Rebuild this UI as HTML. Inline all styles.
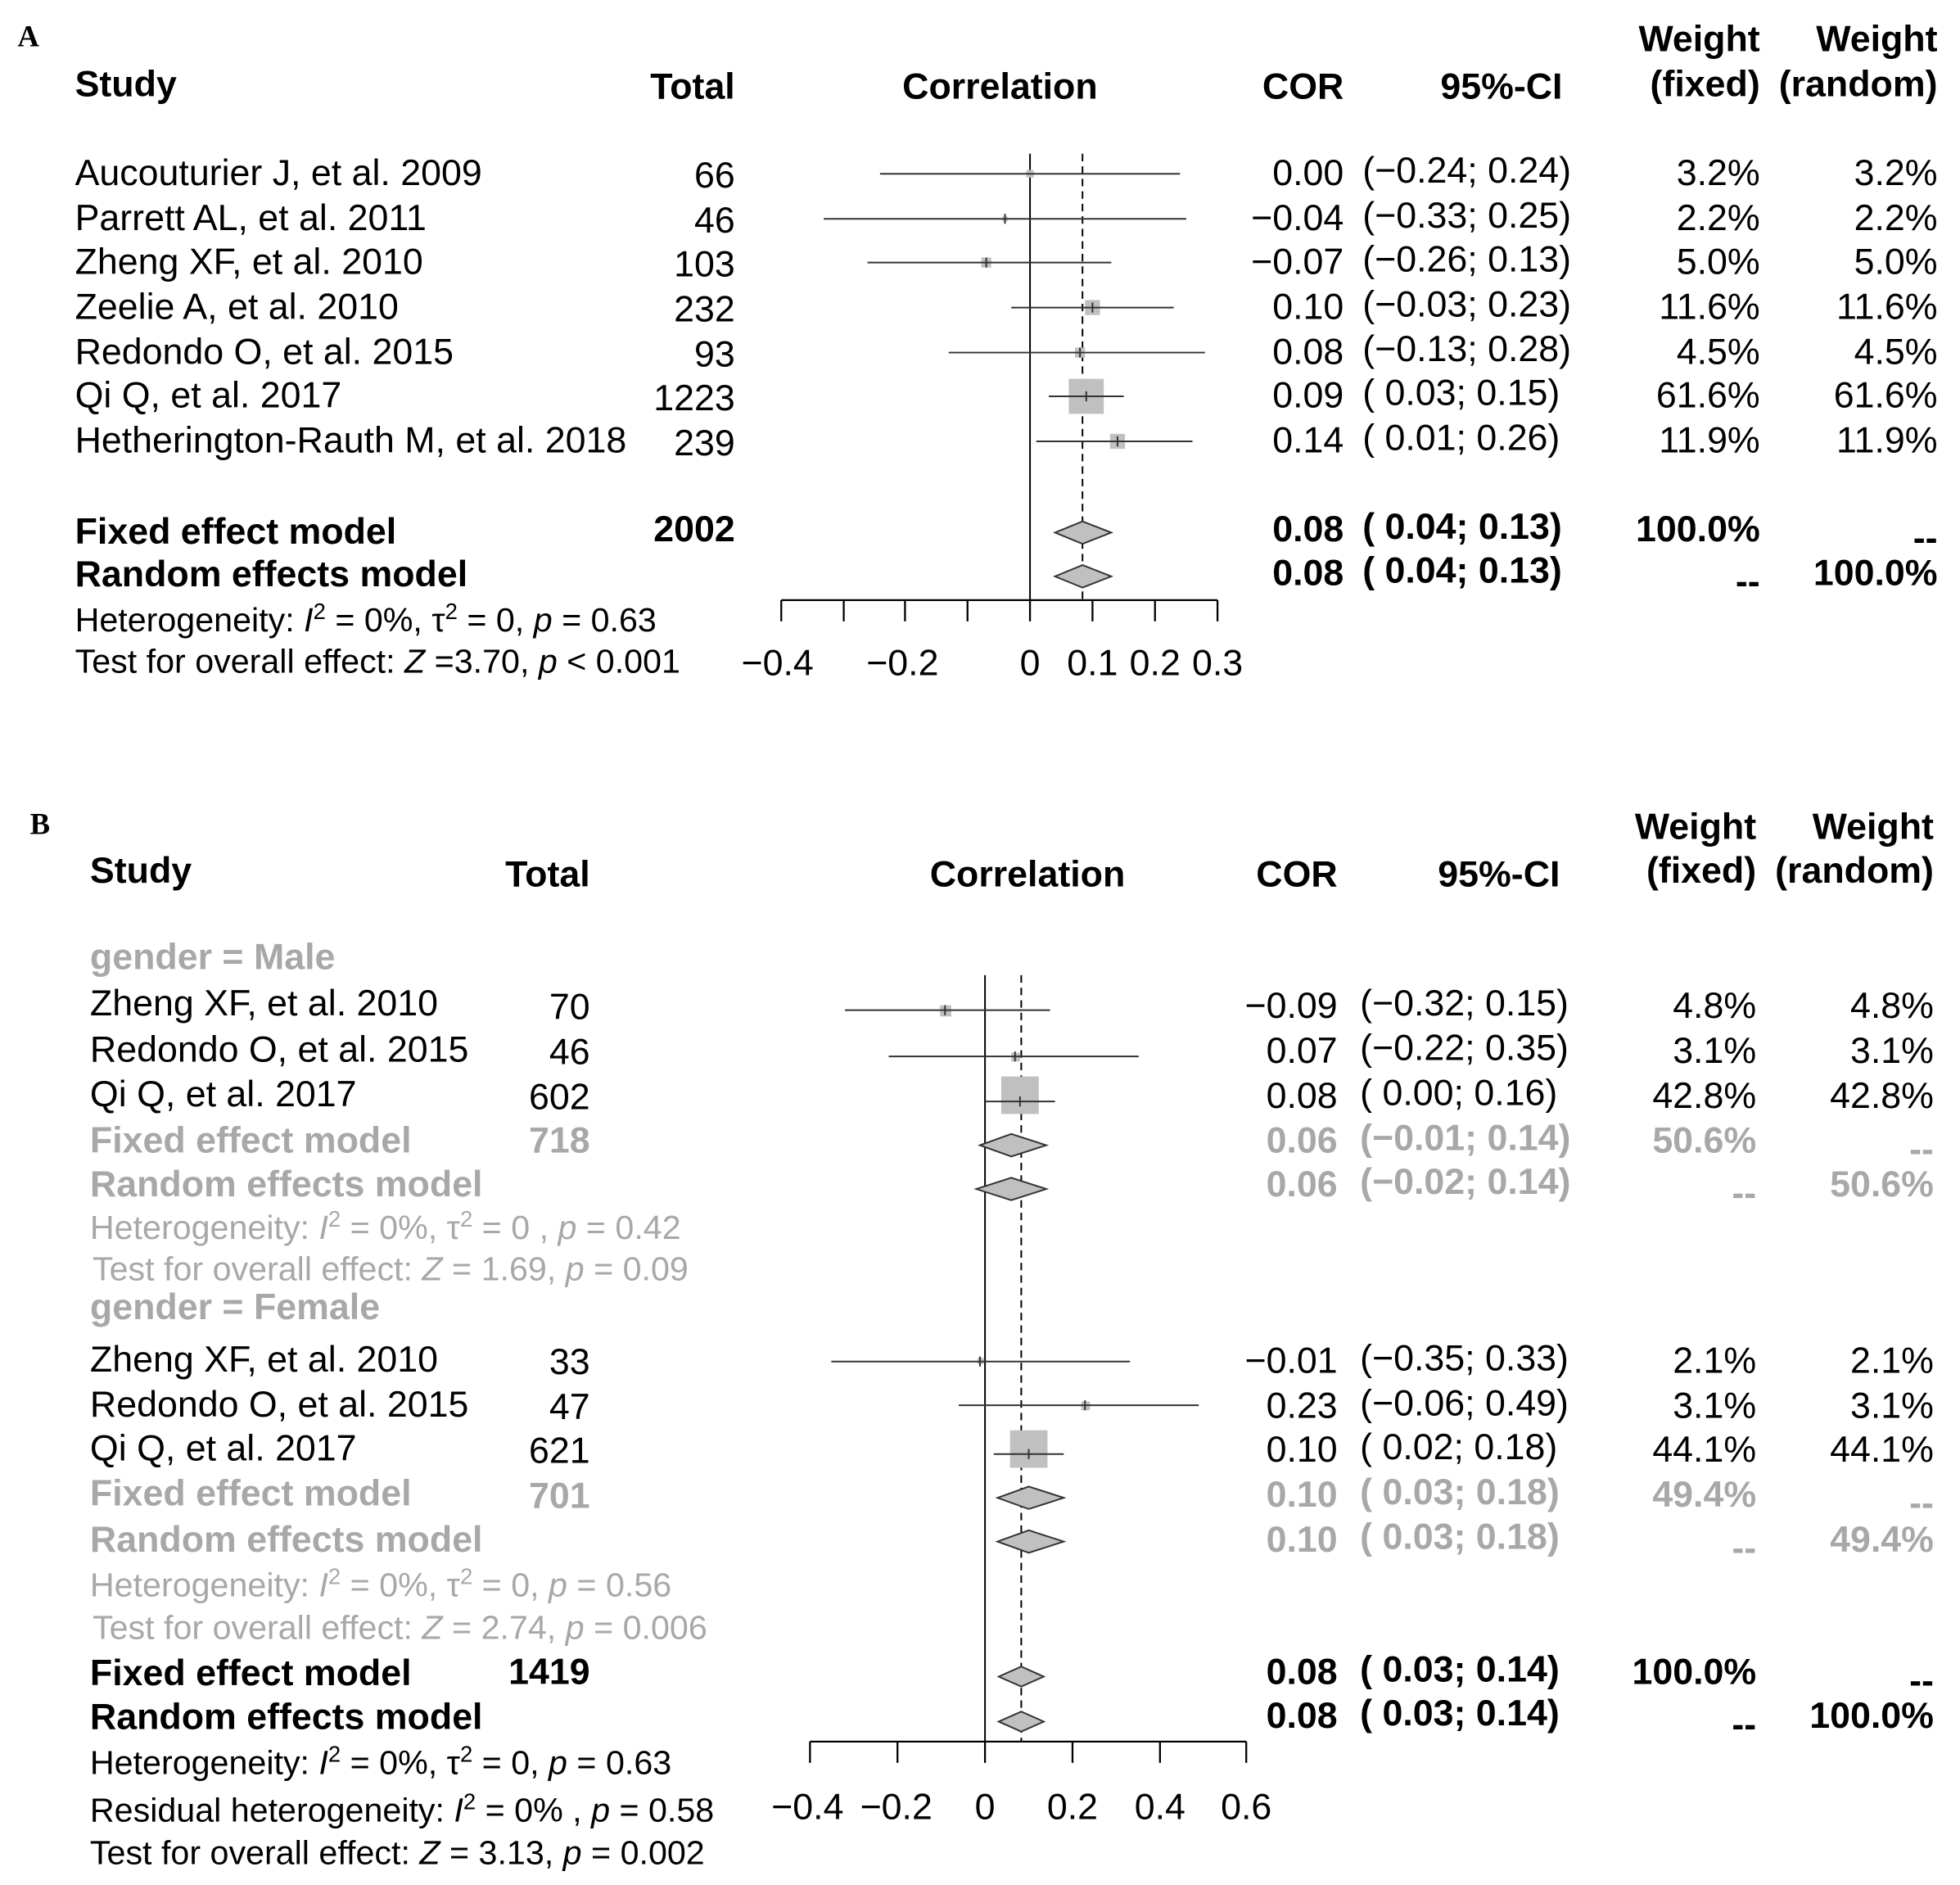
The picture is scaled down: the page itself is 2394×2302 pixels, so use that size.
<!DOCTYPE html>
<html><head><meta charset="utf-8"><style>
html,body{margin:0;padding:0;background:#fff}
svg{display:block}
text{font-family:"Liberation Sans",Arial,sans-serif;font-size:29.3px;fill:#000}
.b{font-weight:bold}
.g{fill:#a8a8a8}
.s{font-size:27px}
.e{text-anchor:end}
.m{text-anchor:middle}
.ser{font-family:"Liberation Serif",serif;font-weight:bold;font-size:24px}
</style></head><body>
<svg width="2394" height="2302" viewBox="0 0 1568 1507.7" preserveAspectRatio="none" xmlns="http://www.w3.org/2000/svg">
<!-- ===== Panel A ===== -->
<text class="ser" x="14" y="37">A</text>
<text class="b" x="60" y="77">Study</text>
<text class="b e" x="588" y="79">Total</text>
<text class="b m" x="800" y="79">Correlation</text>
<text class="b e" x="1075" y="79">COR</text>
<text class="b e" x="1250" y="79">95%-CI</text>
<text class="b e" x="1408" y="41">Weight</text>
<text class="b e" x="1408" y="77">(fixed)</text>
<text class="b e" x="1550" y="41">Weight</text>
<text class="b e" x="1550" y="77">(random)</text>

<g>
<text x="60" y="148">Aucouturier J, et al. 2009</text><text class="e" x="588" y="150">66</text>
<text x="60" y="184">Parrett AL, et al. 2011</text><text class="e" x="588" y="186">46</text>
<text x="60" y="219">Zheng XF, et al. 2010</text><text class="e" x="588" y="221">103</text>
<text x="60" y="255">Zeelie A, et al. 2010</text><text class="e" x="588" y="257">232</text>
<text x="60" y="291">Redondo O, et al. 2015</text><text class="e" x="588" y="293">93</text>
<text x="60" y="326">Qi Q, et al. 2017</text><text class="e" x="588" y="328">1223</text>
<text x="60" y="362">Hetherington-Rauth M, et al. 2018</text><text class="e" x="588" y="364">239</text>
<text class="b" x="60" y="435">Fixed effect model</text><text class="b e" x="588" y="433">2002</text>
<text class="b" x="60" y="469">Random effects model</text>
<text class="s" x="60" y="505">Heterogeneity: <tspan font-style="italic">I</tspan><tspan dy="-10" font-size="18">2</tspan><tspan dy="10"> = 0%, τ</tspan><tspan dy="-10" font-size="18">2</tspan><tspan dy="10"> = 0, </tspan><tspan font-style="italic">p</tspan> = 0.63</text>
<text class="s" x="60" y="538">Test for overall effect: <tspan font-style="italic">Z</tspan> =3.70, <tspan font-style="italic">p</tspan> &lt; 0.001</text>
</g>

<!-- right cols A -->
<g>
<text class="e" x="1075" y="148">0.00</text><text x="1090" y="146">(−0.24; 0.24)</text><text class="e" x="1408" y="148">3.2%</text><text class="e" x="1550" y="148">3.2%</text>
<text class="e" x="1075" y="184">−0.04</text><text x="1090" y="182">(−0.33; 0.25)</text><text class="e" x="1408" y="184">2.2%</text><text class="e" x="1550" y="184">2.2%</text>
<text class="e" x="1075" y="219">−0.07</text><text x="1090" y="217">(−0.26; 0.13)</text><text class="e" x="1408" y="219">5.0%</text><text class="e" x="1550" y="219">5.0%</text>
<text class="e" x="1075" y="255">0.10</text><text x="1090" y="253">(−0.03; 0.23)</text><text class="e" x="1408" y="255">11.6%</text><text class="e" x="1550" y="255">11.6%</text>
<text class="e" x="1075" y="291">0.08</text><text x="1090" y="289">(−0.13; 0.28)</text><text class="e" x="1408" y="291">4.5%</text><text class="e" x="1550" y="291">4.5%</text>
<text class="e" x="1075" y="326">0.09</text><text x="1090" y="324">( 0.03; 0.15)</text><text class="e" x="1408" y="326">61.6%</text><text class="e" x="1550" y="326">61.6%</text>
<text class="e" x="1075" y="362">0.14</text><text x="1090" y="360">( 0.01; 0.26)</text><text class="e" x="1408" y="362">11.9%</text><text class="e" x="1550" y="362">11.9%</text>
<text class="b e" x="1075" y="433">0.08</text><text class="b" x="1090" y="431">( 0.04; 0.13)</text><text class="b e" x="1408" y="433">100.0%</text><text class="b e" x="1550" y="440">--</text>
<text class="b e" x="1075" y="468">0.08</text><text class="b" x="1090" y="466">( 0.04; 0.13)</text><text class="b e" x="1408" y="475">--</text><text class="b e" x="1550" y="468">100.0%</text>
</g>

<!-- plot A -->
<g stroke="#000" fill="none">
<line x1="824" y1="123" x2="824" y2="480" stroke-width="1.3"/>
<line x1="866" y1="123" x2="866" y2="480" stroke-width="1.3" stroke-dasharray="6,4"/>
<line x1="625" y1="480" x2="974" y2="480" stroke-width="1.5"/>
<g stroke-width="1.5">
<line x1="625" y1="480" x2="625" y2="497"/><line x1="675" y1="480" x2="675" y2="497"/><line x1="724" y1="480" x2="724" y2="497"/><line x1="774" y1="480" x2="774" y2="497"/><line x1="824" y1="480" x2="824" y2="497"/><line x1="874" y1="480" x2="874" y2="497"/><line x1="924" y1="480" x2="924" y2="497"/><line x1="974" y1="480" x2="974" y2="497"/>
</g>
</g>
<g fill="#c0c0c0">
<rect x="821" y="136" width="6" height="6"/>
<rect x="802" y="173" width="4" height="4"/>
<rect x="785" y="206" width="8" height="8"/>
<rect x="868" y="240" width="12" height="12"/>
<rect x="860" y="278" width="8" height="8"/>
<rect x="855" y="303" width="28" height="28"/>
<rect x="888" y="347" width="12" height="12"/>
</g>
<g stroke="#333" stroke-width="1.3">
<line x1="704" y1="139" x2="944" y2="139"/>
<line x1="659" y1="175" x2="949" y2="175"/>
<line x1="694" y1="210" x2="889" y2="210"/>
<line x1="809" y1="246" x2="939" y2="246"/>
<line x1="759" y1="282" x2="964" y2="282"/>
<line x1="839" y1="317" x2="899" y2="317"/>
<line x1="829" y1="353" x2="954" y2="353"/>
<line x1="804" y1="171" x2="804" y2="179"/><line x1="789" y1="206" x2="789" y2="214"/><line x1="874" y1="242" x2="874" y2="250"/><line x1="864" y1="278" x2="864" y2="286"/><line x1="869" y1="313" x2="869" y2="321"/><line x1="894" y1="349" x2="894" y2="357"/>
</g>
<g fill="#c0c0c0" stroke="#333" stroke-width="1.3">
<polygon points="844,426 866,417 889,426 866,435"/>
<polygon points="844,461 866,452 889,461 866,470"/>
</g>
<text class="m" x="622" y="540">−0.4</text>
<text class="m" x="722" y="540">−0.2</text>
<text class="m" x="824" y="540">0</text>
<text class="m" x="874" y="540">0.1</text>
<text class="m" x="924" y="540">0.2</text>
<text class="m" x="974" y="540">0.3</text>

<!-- ===== Panel B ===== -->
<text class="ser" x="24" y="667">B</text>
<text class="b" x="72" y="706">Study</text>
<text class="b e" x="472" y="709">Total</text>
<text class="b m" x="822" y="709">Correlation</text>
<text class="b e" x="1070" y="709">COR</text>
<text class="b e" x="1248" y="709">95%-CI</text>
<text class="b e" x="1405" y="671">Weight</text>
<text class="b e" x="1405" y="706">(fixed)</text>
<text class="b e" x="1547" y="671">Weight</text>
<text class="b e" x="1547" y="706">(random)</text>

<g>
<text class="b g" x="72" y="775">gender = Male</text>
<text x="72" y="812">Zheng XF, et al. 2010</text><text class="e" x="472" y="815">70</text>
<text x="72" y="849">Redondo O, et al. 2015</text><text class="e" x="472" y="851">46</text>
<text x="72" y="885">Qi Q, et al. 2017</text><text class="e" x="472" y="887">602</text>
<text class="b g" x="72" y="922">Fixed effect model</text><text class="b g e" x="472" y="922">718</text>
<text class="b g" x="72" y="957">Random effects model</text>
<text class="s g" x="72" y="991">Heterogeneity: <tspan font-style="italic">I</tspan><tspan dy="-10" font-size="18">2</tspan><tspan dy="10"> = 0%, τ</tspan><tspan dy="-10" font-size="18">2</tspan><tspan dy="10"> = 0 , </tspan><tspan font-style="italic">p</tspan> = 0.42</text>
<text class="s g" x="74" y="1024">Test for overall effect: <tspan font-style="italic">Z</tspan> = 1.69, <tspan font-style="italic">p</tspan> = 0.09</text>
<text class="b g" x="72" y="1055">gender = Female</text>
<text x="72" y="1097">Zheng XF, et al. 2010</text><text class="e" x="472" y="1099">33</text>
<text x="72" y="1133">Redondo O, et al. 2015</text><text class="e" x="472" y="1135">47</text>
<text x="72" y="1168">Qi Q, et al. 2017</text><text class="e" x="472" y="1170">621</text>
<text class="b g" x="72" y="1204">Fixed effect model</text><text class="b g e" x="472" y="1206">701</text>
<text class="b g" x="72" y="1241">Random effects model</text>
<text class="s g" x="72" y="1277">Heterogeneity: <tspan font-style="italic">I</tspan><tspan dy="-10" font-size="18">2</tspan><tspan dy="10"> = 0%, τ</tspan><tspan dy="-10" font-size="18">2</tspan><tspan dy="10"> = 0, </tspan><tspan font-style="italic">p</tspan> = 0.56</text>
<text class="s g" x="74" y="1311">Test for overall effect: <tspan font-style="italic">Z</tspan> = 2.74, <tspan font-style="italic">p</tspan> = 0.006</text>
<text class="b" x="72" y="1348">Fixed effect model</text><text class="b e" x="472" y="1347">1419</text>
<text class="b" x="72" y="1383">Random effects model</text>
<text class="s" x="72" y="1419">Heterogeneity: <tspan font-style="italic">I</tspan><tspan dy="-10" font-size="18">2</tspan><tspan dy="10"> = 0%, τ</tspan><tspan dy="-10" font-size="18">2</tspan><tspan dy="10"> = 0, </tspan><tspan font-style="italic">p</tspan> = 0.63</text>
<text class="s" x="72" y="1457">Residual heterogeneity: <tspan font-style="italic">I</tspan><tspan dy="-10" font-size="18">2</tspan><tspan dy="10"> = 0% , </tspan><tspan font-style="italic">p</tspan> = 0.58</text>
<text class="s" x="72" y="1491">Test for overall effect: <tspan font-style="italic">Z</tspan> = 3.13, <tspan font-style="italic">p</tspan> = 0.002</text>
</g>

<!-- right cols B -->
<g>
<text class="e" x="1070" y="814">−0.09</text><text x="1088" y="812">(−0.32; 0.15)</text><text class="e" x="1405" y="814">4.8%</text><text class="e" x="1547" y="814">4.8%</text>
<text class="e" x="1070" y="850">0.07</text><text x="1088" y="848">(−0.22; 0.35)</text><text class="e" x="1405" y="850">3.1%</text><text class="e" x="1547" y="850">3.1%</text>
<text class="e" x="1070" y="886">0.08</text><text x="1088" y="884">( 0.00; 0.16)</text><text class="e" x="1405" y="886">42.8%</text><text class="e" x="1547" y="886">42.8%</text>
<text class="b g e" x="1070" y="922">0.06</text><text class="g" x="1088" y="920" style="font-weight:bold">(−0.01; 0.14)</text><text class="b g e" x="1405" y="922">50.6%</text><text class="b g e" x="1547" y="929">--</text>
<text class="b g e" x="1070" y="957">0.06</text><text class="g" x="1088" y="955" style="font-weight:bold">(−0.02; 0.14)</text><text class="b g e" x="1405" y="964">--</text><text class="b g e" x="1547" y="957">50.6%</text>
<text class="e" x="1070" y="1098">−0.01</text><text x="1088" y="1096">(−0.35; 0.33)</text><text class="e" x="1405" y="1098">2.1%</text><text class="e" x="1547" y="1098">2.1%</text>
<text class="e" x="1070" y="1134">0.23</text><text x="1088" y="1132">(−0.06; 0.49)</text><text class="e" x="1405" y="1134">3.1%</text><text class="e" x="1547" y="1134">3.1%</text>
<text class="e" x="1070" y="1169">0.10</text><text x="1088" y="1167">( 0.02; 0.18)</text><text class="e" x="1405" y="1169">44.1%</text><text class="e" x="1547" y="1169">44.1%</text>
<text class="b g e" x="1070" y="1205">0.10</text><text class="g" x="1088" y="1203" style="font-weight:bold">( 0.03; 0.18)</text><text class="b g e" x="1405" y="1205">49.4%</text><text class="b g e" x="1547" y="1212">--</text>
<text class="b g e" x="1070" y="1241">0.10</text><text class="g" x="1088" y="1239" style="font-weight:bold">( 0.03; 0.18)</text><text class="b g e" x="1405" y="1248">--</text><text class="b g e" x="1547" y="1241">49.4%</text>
<text class="b e" x="1070" y="1347">0.08</text><text class="b" x="1088" y="1345">( 0.03; 0.14)</text><text class="b e" x="1405" y="1347">100.0%</text><text class="b e" x="1547" y="1354">--</text>
<text class="b e" x="1070" y="1382">0.08</text><text class="b" x="1088" y="1380">( 0.03; 0.14)</text><text class="b e" x="1405" y="1389">--</text><text class="b e" x="1547" y="1382">100.0%</text>
</g>

<!-- plot B -->
<g stroke="#000" fill="none">
<line x1="788" y1="780" x2="788" y2="1393" stroke-width="1.3"/>
<line x1="817" y1="780" x2="817" y2="1393" stroke-width="1.3" stroke-dasharray="6,4"/>
<line x1="648" y1="1393" x2="997" y2="1393" stroke-width="1.5"/>
<g stroke-width="1.5">
<line x1="648" y1="1393" x2="648" y2="1410"/><line x1="718" y1="1393" x2="718" y2="1410"/><line x1="788" y1="1393" x2="788" y2="1410"/><line x1="858" y1="1393" x2="858" y2="1410"/><line x1="928" y1="1393" x2="928" y2="1410"/><line x1="997" y1="1393" x2="997" y2="1410"/>
</g>
</g>
<g fill="#c0c0c0">
<rect x="752" y="804" width="9" height="9"/>
<rect x="809" y="842" width="7" height="7"/>
<rect x="801" y="861" width="30" height="30"/>
<rect x="782" y="1086" width="5" height="5"/>
<rect x="865" y="1121" width="7" height="7"/>
<rect x="808" y="1144" width="30" height="30"/>
</g>
<g stroke="#333" stroke-width="1.3">
<line x1="676" y1="808" x2="840" y2="808"/>
<line x1="711" y1="845" x2="911" y2="845"/>
<line x1="788" y1="881" x2="844" y2="881"/>
<line x1="665" y1="1089" x2="904" y2="1089"/>
<line x1="767" y1="1124" x2="959" y2="1124"/>
<line x1="795" y1="1163" x2="851" y2="1163"/>
<line x1="756" y1="804" x2="756" y2="812"/><line x1="812" y1="841" x2="812" y2="849"/><line x1="816" y1="877" x2="816" y2="885"/><line x1="784" y1="1085" x2="784" y2="1093"/><line x1="868" y1="1120" x2="868" y2="1128"/><line x1="823" y1="1159" x2="823" y2="1167"/>
</g>
<g fill="#c0c0c0" stroke="#333" stroke-width="1.3">
<polygon points="784,916 809,907 837,916 809,925"/>
<polygon points="781,951 809,942 837,951 809,960"/>
<polygon points="798,1198 823,1189 851,1198 823,1207"/>
<polygon points="798,1233 823,1224 851,1233 823,1242"/>
<polygon points="799,1341 817,1333 835,1341 817,1349"/>
<polygon points="799,1377 817,1369 835,1377 817,1385"/>
</g>
<text class="m" x="646" y="1455">−0.4</text>
<text class="m" x="717" y="1455">−0.2</text>
<text class="m" x="788" y="1455">0</text>
<text class="m" x="858" y="1455">0.2</text>
<text class="m" x="928" y="1455">0.4</text>
<text class="m" x="997" y="1455">0.6</text>
</svg>
</body></html>
